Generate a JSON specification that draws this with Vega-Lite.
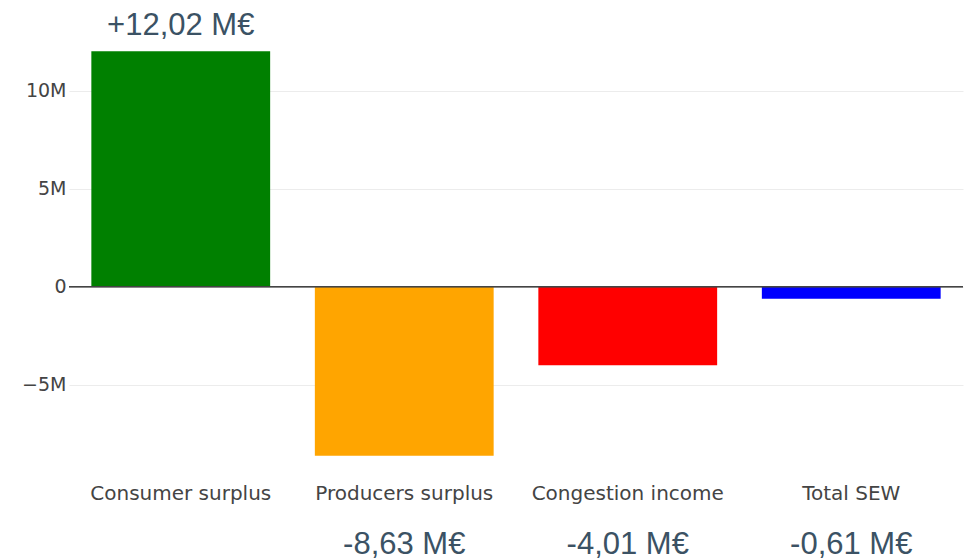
{
  "$schema": "https://vega.github.io/schema/vega-lite/v6.json",
  "autosize": "none",
  "width": 894,
  "height": 445,
  "padding": {"left": 69, "top": 31, "right": 9, "bottom": 84},
  "background": "white",
  "config": {"view": {"stroke": null}},
  "data": {
    "values": [
      {"category": "Consumer surplus", "value": 12020000, "label": "+12,02 M€"},
      {"category": "Producers surplus", "value": -8630000, "label": "-8,63 M€"},
      {"category": "Congestion income", "value": -4010000, "label": "-4,01 M€"},
      {"category": "Total SEW", "value": -610000, "label": "-0,61 M€"}
    ]
  },
  "encoding": {
    "x": {
      "field": "category",
      "type": "nominal",
      "sort": null,
      "scale": {"paddingInner": 0.2, "paddingOuter": 0.1},
      "axis": {
        "title": null,
        "labelAngle": 0,
        "domain": false,
        "ticks": false,
        "labelPadding": 7,
        "labelLimit": 400,
        "labelFont": "DejaVu Sans",
        "labelFontSize": 20,
        "labelColor": "#444444"
      }
    }
  },
  "layer": [
    {
      "mark": {"type": "bar"},
      "encoding": {
        "y": {
          "field": "value",
          "type": "quantitative",
          "scale": {"domain": [-9660000, 13050000], "nice": false, "zero": false},
          "axis": {
            "title": null,
            "values": [-5000000, 0, 5000000, 10000000],
            "labelExpr": "datum.value == 0 ? '0' : (datum.value < 0 ? '\u22125M' : (datum.value / 1000000) + 'M')",
            "domain": false,
            "ticks": false,
            "labelPadding": 3,
            "labelFont": "DejaVu Sans",
            "labelFontSize": 19,
            "labelColor": "#444444",
            "gridColor": "#ececec",
            "gridWidth": 1
          }
        },
        "y2": {"datum": 0},
        "color": {
          "field": "category",
          "type": "nominal",
          "scale": {
            "domain": ["Consumer surplus", "Producers surplus", "Congestion income", "Total SEW"],
            "range": ["#008000", "#FFA500", "#FF0000", "#0000FF"]
          },
          "legend": null
        }
      }
    },
    {
      "mark": {"type": "rule", "color": "#444444", "strokeWidth": 1},
      "encoding": {"y": {"datum": 0}, "x": {}}
    },
    {
      "transform": [{"filter": "datum.value > 0"}],
      "mark": {"type": "text", "font": "Liberation Sans", "fontSize": 31, "color": "#3b5264", "baseline": "middle", "dy": -25},
      "encoding": {
        "y": {"field": "value", "type": "quantitative"},
        "text": {"field": "label"}
      }
    },
    {
      "transform": [{"filter": "datum.value < 0"}],
      "mark": {"type": "text", "font": "Liberation Sans", "fontSize": 31, "color": "#3b5264", "baseline": "middle"},
      "encoding": {
        "y": {"datum": -13200000},
        "text": {"field": "label"}
      }
    }
  ]
}
